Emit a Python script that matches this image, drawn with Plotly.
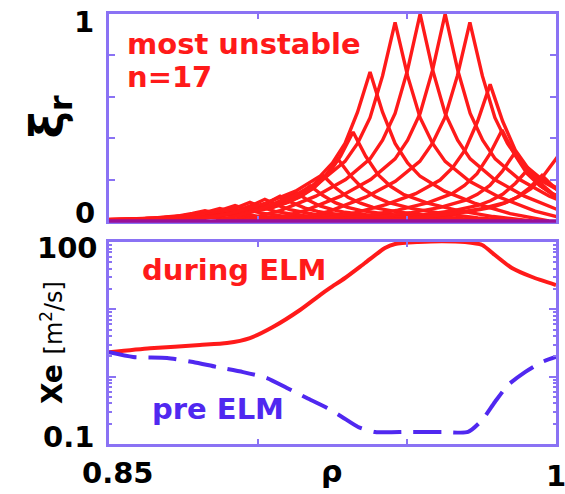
import math
import plotly.graph_objects as go

# ---- top panel: radial displacement harmonics of the n=17 mode ----
rho_harm = [0.8772, 0.8822, 0.8872, 0.8923, 0.8973, 0.9023, 0.9074, 0.9124,
            0.9175, 0.9218, 0.9268, 0.9319, 0.9376, 0.9460, 0.9544, 0.9628,
            0.9711, 0.9779, 0.9819, 0.9862, 0.9906, 0.9953, 1.0000]
xi_peak = [0.03, 0.05, 0.06, 0.075, 0.09, 0.105, 0.12, 0.14,
           0.17, 0.22, 0.30, 0.43, 0.72, 0.96, 1.00, 1.00,
           0.96, 0.66, 0.44, 0.33, 0.25, 0.22, 0.30]
# shape of one poloidal harmonic around its rational surface
profile_offset = [-0.060, -0.047, -0.035, -0.025, -0.0168, -0.0126,
                  -0.0084, -0.0042, 0.0, 0.0042, 0.0084, 0.0126, 0.0168,
                  0.025, 0.035, 0.047, 0.060]
profile_shape = [0.0, 0.05, 0.12, 0.20, 0.30, 0.39,
                 0.52, 0.73, 1.0, 0.73, 0.52, 0.39, 0.30,
                 0.20, 0.12, 0.05, 0.0]

# ---- bottom panel: electron heat diffusivity ----
rho_during = [0.85, 0.8638, 0.8805, 0.8896, 0.8973, 0.9050, 0.9141, 0.9208,
              0.9242, 0.9292, 0.9359, 0.9426, 0.9460, 0.9537, 0.9617, 0.9695,
              0.9752, 0.9795, 0.9852, 0.9920, 1.0]
chi_during = [2.3, 2.64, 2.95, 3.16, 3.75, 5.47, 9.78, 16.3,
              20.8, 29.2, 48.8, 81.5, 93.4, 100, 103, 100,
              90.3, 64.1, 41.1, 30.2, 23.0]
rho_pre = [0.85, 0.8581, 0.8695, 0.8782, 0.8862, 0.8950, 0.9030, 0.9097,
           0.9164, 0.9232, 0.9282, 0.9336, 0.9393, 0.9503, 0.9617, 0.9705,
           0.9752, 0.9795, 0.9839, 0.9896, 0.9953, 1.0]
chi_pre = [2.3, 1.96, 1.89, 1.65, 1.39, 1.17, 0.955, 0.679,
           0.482, 0.343, 0.252, 0.179, 0.151, 0.151, 0.151, 0.151,
           0.227, 0.421, 0.752, 1.17, 1.65, 1.96]

x_ticks = [0.9, 0.95]
xi_ticks = [0.2, 0.4, 0.6, 0.8]
chi_major = [1, 10]
chi_minor = [0.2, 0.3, 0.4, 0.5, 0.6, 0.7, 0.8, 0.9,
             2, 3, 4, 5, 6, 7, 8, 9,
             20, 30, 40, 50, 60, 70, 80, 90]

RED = "#ff1a1a"
BLUE = "#5028f0"
FRAME = "#8a72f4"
PURPLE = "#98109a"
FONT = "DejaVu Sans"

W, H = 565, 494
left, right = 109 / W, 556 / W
top_dom = [(H - 221) / H, (H - 14) / H]
bot_dom = [(H - 444) / H, (H - 242) / H]

fig = go.Figure()

for r0, amp in zip(rho_harm, xi_peak):
    fig.add_trace(go.Scatter(
        x=[r0 + d for d in profile_offset],
        y=[amp * f for f in profile_shape],
        mode="lines", line=dict(color=RED, width=3.4),
        xaxis="x", yaxis="y", showlegend=False, hoverinfo="skip"))

fig.add_trace(go.Scatter(x=rho_during, y=chi_during, mode="lines",
                         line=dict(color=RED, width=4, shape="spline", smoothing=0.6),
                         xaxis="x2", yaxis="y2", showlegend=False))
fig.add_trace(go.Scatter(x=rho_pre, y=chi_pre, mode="lines",
                         line=dict(color=BLUE, width=4, dash="28px,12px",
                                   shape="spline", smoothing=0.6),
                         xaxis="x2", yaxis="y2", showlegend=False))

frame = dict(showline=True, linecolor=FRAME, linewidth=3, mirror="ticks",
             ticks="inside", tickcolor=FRAME, tickwidth=2,
             showticklabels=False, showgrid=False, zeroline=False)

fig.update_layout(
    width=W, height=H, margin=dict(l=0, r=0, t=0, b=0),
    paper_bgcolor="white", plot_bgcolor="white",
    xaxis=dict(domain=[left, right], range=[0.85, 1.0], anchor="y",
               tickvals=x_ticks, ticklen=5, **frame),
    yaxis=dict(domain=top_dom, range=[0, 1], anchor="x",
               tickvals=xi_ticks, ticklen=6, **frame),
    xaxis2=dict(domain=[left, right], range=[0.85, 1.0], anchor="y2",
                tickvals=x_ticks, ticklen=5, **frame),
    yaxis2=dict(domain=bot_dom, type="log", range=[-1, 2], anchor="x2",
                tickvals=chi_major, ticklen=7,
                minor=dict(tickvals=chi_minor, ticks="inside", ticklen=3,
                           tickcolor=FRAME, tickwidth=1.5),
                **frame),
)

# zero line of the displacement panel where all harmonics overlap the axis
fig.add_shape(type="line", xref="x domain", yref="y domain",
              x0=0, x1=1, y0=0, y1=0, layer="above",
              line=dict(color=PURPLE, width=3.5))


def label(text, x, y, xref, yref, color="black", xanchor="center",
          yanchor="middle", xshift=0, yshift=0, size=29, angle=0, weight="bold"):
    fig.add_annotation(text=text, x=x, y=y, xref=xref, yref=yref,
                       showarrow=False, xanchor=xanchor, yanchor=yanchor,
                       xshift=xshift, yshift=yshift, textangle=angle,
                       font=dict(family=FONT, size=size, color=color, weight=weight))


# tick labels
label("1", 0, 1, "x domain", "y", xanchor="right", xshift=-13, yshift=-8)
label("0", 0, 0, "x domain", "y", xanchor="right", xshift=-12, yshift=8)
label("100", 0, 2, "x2 domain", "y2", xanchor="right", xshift=-9, yshift=-6)
label("0.1", 0, -1, "x2 domain", "y2", xanchor="right", xshift=-13, yshift=7)
label("0.85", 0.85, 0, "x2", "y2 domain", yanchor="top", xshift=9, yshift=-10)
label("1", 1.0, 0, "x2", "y2 domain", yanchor="top", yshift=-13)

# axis titles
label("ρ", 0.9248, 0, "x2", "y2 domain", yanchor="middle", yshift=-27, size=30)
label("ξ<sub>r</sub>", 50 / W, 0.5, "paper", "y domain", angle=-90, size=46)
label("Xe <span style='font-weight:normal;font-size:24px'>[m<sup>2</sup>/s]</span>",
      52 / W, 0.5, "paper", "y2 domain", angle=-90, size=28)

# panel annotations
label("most unstable", 0.8554, 0.855, "x", "y", color=RED, xanchor="left")
label("n=17", 0.8554, 0.696, "x", "y", color=RED, xanchor="left")
label("during ELM", 0.8604, math.log10(38.4), "x2", "y2", color=RED, xanchor="left")
label("pre ELM", 0.8638, math.log10(0.331), "x2", "y2", color=BLUE, xanchor="left")

fig.write_html("out.html")
